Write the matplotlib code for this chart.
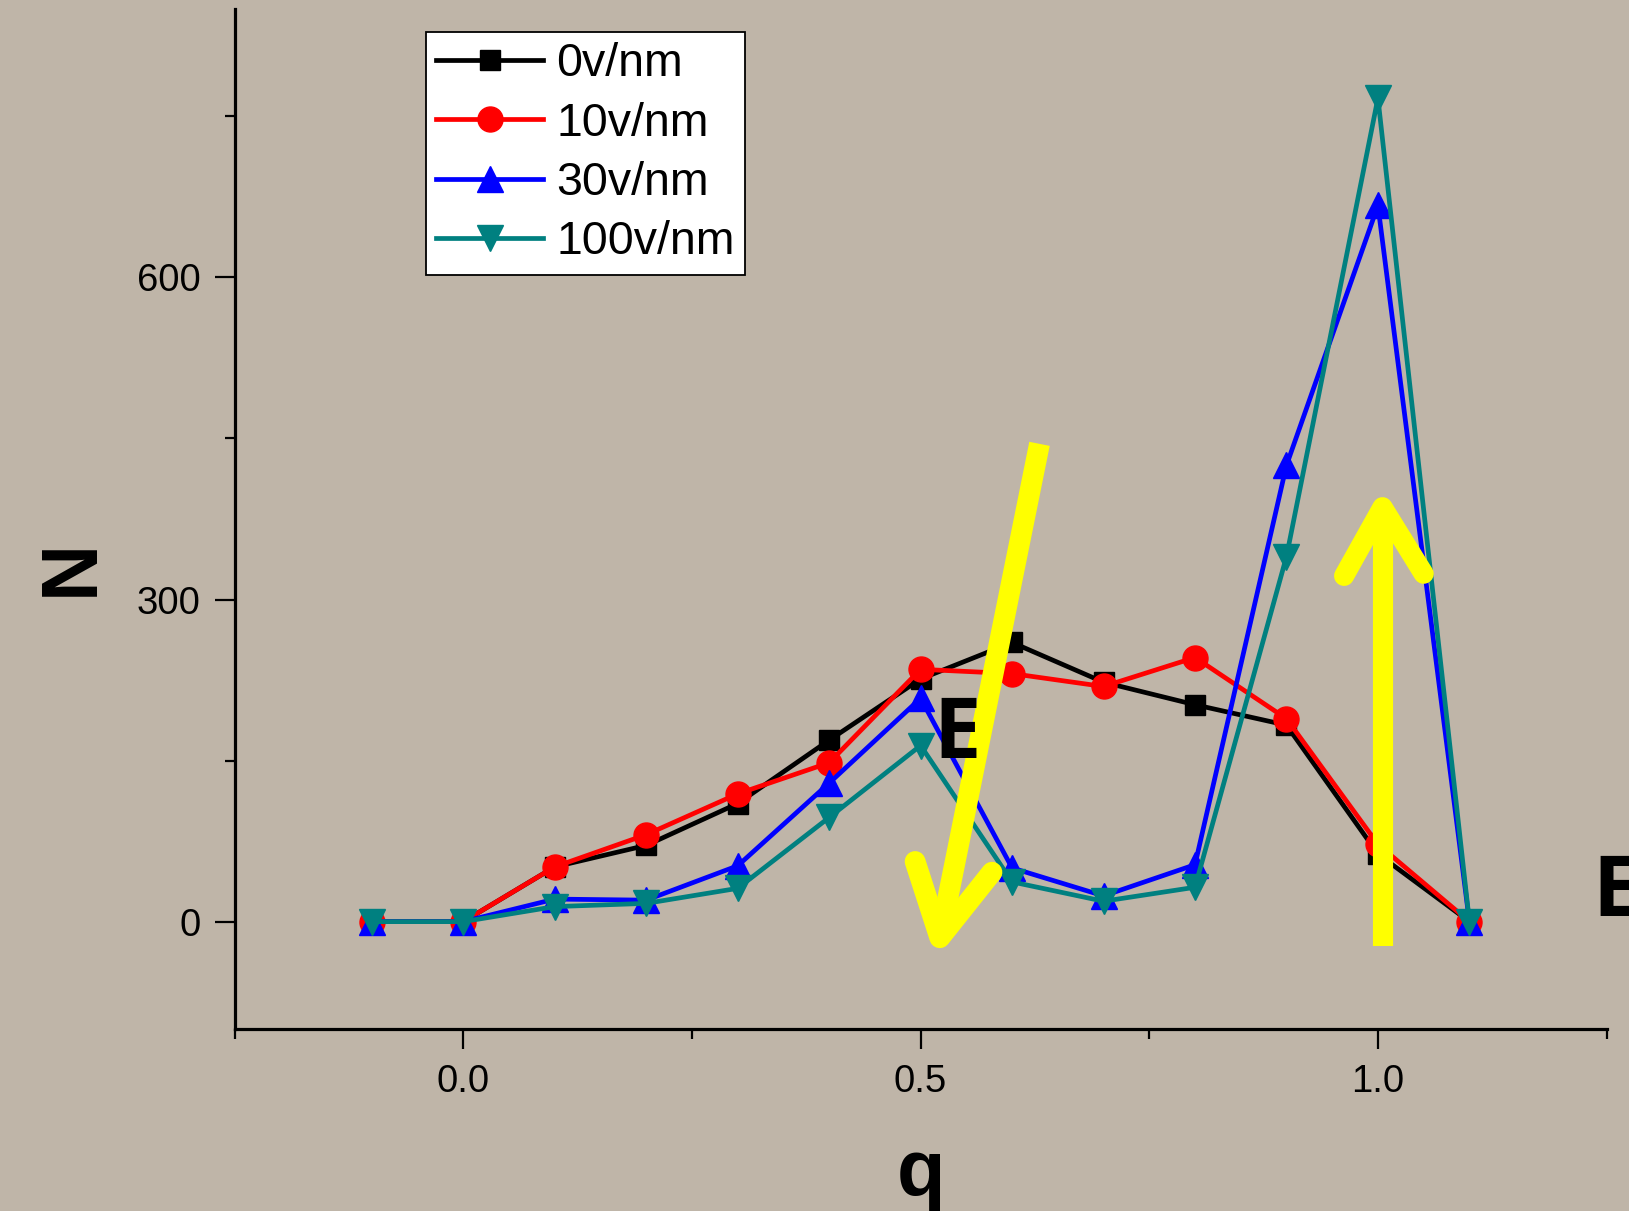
import matplotlib
matplotlib.use("Agg")
import matplotlib.pyplot as plt
from matplotlib.ticker import FixedLocator

plt.rcParams['font.family'] = ['Liberation Sans', 'DejaVu Sans']

q = [-0.1, 0.0, 0.1, 0.2, 0.3, 0.4, 0.5, 0.6, 0.7, 0.8, 0.9, 1.0, 1.1]
n_0 = [0, 0, 51, 71, 110, 169, 226, 260, 223, 202, 183, 63, 0]
n_10 = [0, 0, 51, 81, 119, 148, 235, 231, 219, 246, 189, 72, 0]
n_30 = [0, 0, 21, 20, 52, 129, 208, 50, 24, 53, 425, 667, 0]
n_100 = [0, 0, 14, 17, 31, 97, 164, 37, 19, 32, 340, 767, 0]
series_labels = ["0v/nm", "10v/nm", "30v/nm", "100v/nm"]
x_ticks = [0.0, 0.5, 1.0]
x_tick_labels = ["0.0", "0.5", "1.0"]
y_ticks = [0, 300, 600]

# yellow arrow annotations (data coords)
arrow1_shaft = ([0.630, 0.521], [445, -15])
arrow1_head = ([0.494, 0.521, 0.578], [56, -15, 46])
arrow2_shaft = ([1.005, 1.005], [-23, 386])
arrow2_head = ([0.963, 1.005, 1.050], [322, 386, 324])

bg = "#BFB5A8"
W, H = 1629, 1211
fig = plt.figure(figsize=(W / 100, H / 100), dpi=100, facecolor=bg)
ax = fig.add_axes([234.6 / W, 1 - 1029 / H, 1372 / W, 1020 / H], facecolor=bg)

styles = [
    dict(color="black", marker="s", ms=15),
    dict(color="#FF0000", marker="o", ms=18),
    dict(color="#0000FF", marker="^", ms=19),
    dict(color="#008080", marker="v", ms=19),
]
for ys, lab, st in zip([n_0, n_10, n_30, n_100], series_labels, styles):
    ax.plot(q, ys, color=st["color"], lw=3.4, marker=st["marker"], ms=st["ms"],
            mfc=st["color"], mec=st["color"], mew=1, label=lab, clip_on=False, zorder=3)

yel = "#FFFF00"
ax.plot(*arrow1_shaft, color=yel, lw=15, solid_capstyle="butt", zorder=5, clip_on=False)
ax.plot(*arrow1_head, color=yel, lw=15, solid_capstyle="round", solid_joinstyle="round", zorder=5, clip_on=False)
ax.plot(*arrow2_shaft, color=yel, lw=14.5, solid_capstyle="butt", zorder=5, clip_on=False)
ax.plot(*arrow2_head, color=yel, lw=14.5, solid_capstyle="round", solid_joinstyle="round", zorder=5, clip_on=False)

ax.text(0.514, 152, "E", fontfamily="Open Sans", fontweight="bold", fontsize=61,
        ha="left", va="baseline", zorder=6, clip_on=False)
ax.text(1.234, 5.6, "E", fontfamily="Open Sans", fontweight="bold", fontsize=61,
        ha="left", va="baseline", zorder=6, clip_on=False)

ax.set_xlim(-0.25, 1.25)
ax.set_ylim(-100, 850)
for s in ["top", "right"]:
    ax.spines[s].set_visible(False)
for s in ["left", "bottom"]:
    ax.spines[s].set_linewidth(2.3)

ax.xaxis.set_major_locator(FixedLocator(x_ticks))
ax.xaxis.set_minor_locator(FixedLocator([-0.25, 0.25, 0.75, 1.25]))
ax.yaxis.set_major_locator(FixedLocator(y_ticks))
ax.yaxis.set_minor_locator(FixedLocator([150, 450, 750]))
ax.set_xticklabels(x_tick_labels)
ax.tick_params(which="major", direction="out", length=14.4, width=1.6, labelsize=27.5, pad=11)
ax.tick_params(which="minor", direction="out", length=7.2, width=1.6)
ax.tick_params(axis="y", which="major", pad=10)

ax.set_xlabel("q", fontsize=57, fontweight="bold")
ax.set_ylabel("N", fontsize=57, fontweight="bold")
ax.xaxis.set_label_coords(0.5003, -0.106)
ax.yaxis.set_label_coords(-0.091, 0.453)

leg = ax.legend(loc="upper left", bbox_to_anchor=(426 / W, 1 - 32 / H),
                bbox_transform=fig.transFigure, borderaxespad=0, fontsize=33.5,
                numpoints=1, handlelength=2.3, handletextpad=0.28, labelspacing=0.33,
                borderpad=0.22, fancybox=False, framealpha=1, edgecolor="black")
leg.get_frame().set_linewidth(1.3)
leg.set_zorder(10)

fig.savefig("out.png", dpi=100, facecolor=bg)
